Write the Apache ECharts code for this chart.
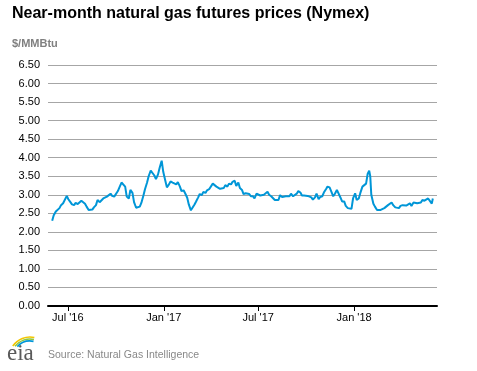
<!DOCTYPE html>
<html>
<head>
<meta charset="utf-8">
<script src="https://cdn.jsdelivr.net/npm/echarts@6/dist/echarts.min.js"></script>
<style>
html,body{margin:0;padding:0;background:#fff;}
#c{width:477px;height:371px;}
</style>
</head>
<body>
<div id="c"></div>
<script>
var dates = [
'2016-06-01','2016-06-04','2016-06-08','2016-06-11','2016-06-15','2016-06-18','2016-06-22','2016-06-25','2016-06-29','2016-07-02',
'2016-07-06','2016-07-09','2016-07-13','2016-07-16','2016-07-20','2016-07-23','2016-07-27','2016-07-30','2016-08-03','2016-08-06',
'2016-08-10','2016-08-13','2016-08-17','2016-08-20','2016-08-24','2016-08-27','2016-08-31','2016-09-03','2016-09-07','2016-09-10',
'2016-09-14','2016-09-17','2016-09-21','2016-09-24','2016-09-28','2016-10-01','2016-10-05','2016-10-08','2016-10-12','2016-10-15',
'2016-10-19','2016-10-22','2016-10-26','2016-10-29','2016-11-02','2016-11-05','2016-11-09','2016-11-12','2016-11-16','2016-11-19',
'2016-11-23','2016-11-26','2016-11-30','2016-12-03','2016-12-07','2016-12-10','2016-12-14','2016-12-17','2016-12-21','2016-12-24',
'2016-12-28','2016-12-31','2017-01-04','2017-01-07','2017-01-11','2017-01-14','2017-01-18','2017-01-21','2017-01-25','2017-01-28',
'2017-02-01','2017-02-04','2017-02-08','2017-02-11','2017-02-15','2017-02-18','2017-02-22','2017-02-25','2017-03-01','2017-03-04',
'2017-03-08','2017-03-11','2017-03-15','2017-03-18','2017-03-22','2017-03-25','2017-03-29','2017-04-01','2017-04-05','2017-04-08',
'2017-04-12','2017-04-15','2017-04-19','2017-04-22','2017-04-26','2017-04-29','2017-05-03','2017-05-06','2017-05-10','2017-05-13',
'2017-05-17','2017-05-20','2017-05-24','2017-05-27','2017-05-31','2017-06-03','2017-06-07','2017-06-10','2017-06-14','2017-06-17',
'2017-06-21','2017-06-24','2017-06-28','2017-07-01','2017-07-05','2017-07-08','2017-07-12','2017-07-15','2017-07-19','2017-07-22',
'2017-07-26','2017-07-29','2017-08-02','2017-08-05','2017-08-09','2017-08-12','2017-08-16','2017-08-19','2017-08-23','2017-08-26',
'2017-08-30','2017-09-02','2017-09-06','2017-09-09','2017-09-13','2017-09-16','2017-09-20','2017-09-23','2017-09-27','2017-09-30',
'2017-10-04','2017-10-07','2017-10-11','2017-10-14','2017-10-18','2017-10-21','2017-10-25','2017-10-28','2017-11-01','2017-11-04',
'2017-11-08','2017-11-11','2017-11-15','2017-11-18','2017-11-22','2017-11-25','2017-11-29','2017-12-02','2017-12-06','2017-12-09',
'2017-12-13','2017-12-16','2017-12-20','2017-12-23','2017-12-27','2017-12-30','2018-01-03','2018-01-06','2018-01-10','2018-01-13',
'2018-01-17','2018-01-20','2018-01-24','2018-01-27','2018-01-30','2018-02-01','2018-02-03','2018-02-07','2018-02-10','2018-02-14',
'2018-02-17','2018-02-21','2018-02-24','2018-02-28','2018-03-03','2018-03-07','2018-03-10','2018-03-14','2018-03-17','2018-03-21',
'2018-03-24','2018-03-28','2018-03-31','2018-04-04','2018-04-07','2018-04-11','2018-04-14','2018-04-18','2018-04-21','2018-04-25',
'2018-04-28','2018-05-02','2018-05-05','2018-05-09','2018-05-12','2018-05-16','2018-05-19','2018-05-23','2018-05-26','2018-05-30',
'2018-06-01'];
var prices = [
2.30,2.45,2.55,2.60,2.64,2.72,2.77,2.80,2.97,2.88,
2.80,2.74,2.72,2.78,2.75,2.70,2.84,2.86,2.76,2.68,
2.59,2.62,2.60,2.66,2.72,2.86,2.80,2.83,2.90,2.92,
2.95,2.98,3.03,2.97,2.95,2.96,3.10,3.20,3.33,3.35,
3.22,2.95,2.90,3.13,3.05,2.80,2.65,2.64,2.68,2.78,
2.98,3.15,3.33,3.50,3.65,3.70,3.52,3.42,3.55,3.72,
3.92,3.62,3.38,3.20,3.28,3.36,3.33,3.36,3.28,3.34,
3.22,3.10,3.12,3.04,2.92,2.74,2.58,2.63,2.74,2.82,
2.93,3.02,2.99,3.08,3.05,3.12,3.15,3.20,3.30,3.28,
3.22,3.24,3.16,3.13,3.18,3.26,3.22,3.30,3.28,3.35,
3.38,3.24,3.33,3.18,3.13,3.02,3.04,2.99,3.02,2.96,
2.96,2.90,3.03,3.08,2.98,2.95,3.00,3.04,3.08,3.00,
2.96,2.95,2.86,2.82,2.86,2.99,2.94,2.90,2.96,2.97,
2.96,3.03,2.96,2.99,3.03,3.10,3.06,2.98,2.98,3.01,
2.97,2.94,2.93,2.87,2.93,3.03,2.88,2.94,2.96,3.06,
3.15,3.22,3.20,3.10,2.96,3.02,3.13,3.12,2.92,2.82,
2.82,2.70,2.64,2.66,2.62,2.90,3.04,2.86,2.90,3.05,
3.22,3.18,3.30,3.56,3.65,3.50,3.00,2.76,2.68,2.59,
2.57,2.59,2.61,2.64,2.67,2.72,2.76,2.79,2.72,2.66,
2.61,2.64,2.70,2.72,2.69,2.71,2.73,2.77,2.70,2.79,
2.81,2.77,2.80,2.79,2.86,2.84,2.87,2.90,2.95,2.76,
2.90];
var tickDates = ['2016-07-01','2017-01-01','2017-07-01','2018-01-01'];
var tickLabels = ["Jul '16","Jan '17","Jul '17","Jan '18"];
var axisStart = '2016-05-24';
var axisEnd = '2018-06-09';
var yMin = 0, yMax = 6.5, yStep = 0.5;

function ts(s){var p=s.split('-');return Date.UTC(+p[0],+p[1]-1,+p[2]);}
var tickTs = tickDates.map(ts);
var seriesData = dates.map(function(d,i){return [ts(d), prices[i]];});

var chart = echarts.init(document.getElementById('c'), null, {renderer:'canvas'});
var font = 'Arial, "Liberation Sans", sans-serif';
chart.setOption({
  animation:false,
  grid:{left:48,right:40,top:65,bottom:65,containLabel:false},
  xAxis:{
    type:'value', min:ts(axisStart), max:ts(axisEnd),
    axisLine:{show:true,lineStyle:{color:'#000',width:2}},
    axisTick:{show:true,length:5,lineStyle:{color:'#000',width:1},customValues:tickTs},
    axisLabel:{customValues:tickTs,color:'#000',fontSize:11,fontFamily:font,margin:6,
      formatter:function(v){var i=tickTs.indexOf(v);return i>=0?tickLabels[i]:'';}},
    splitLine:{show:false}
  },
  yAxis:{
    type:'value', min:yMin, max:yMax, interval:yStep,
    axisLine:{show:false}, axisTick:{show:false},
    axisLabel:{color:'#000',fontSize:11,fontFamily:font,margin:8,formatter:function(v){return v.toFixed(2);}},
    splitLine:{show:true,lineStyle:{color:'#a6a6a6',width:1}}
  },
  series:[{
    type:'line', data:seriesData, showSymbol:false, symbol:'none',
    lineStyle:{color:'#0096d7',width:2}, z:3
  }],
  graphic:[
    {type:'text',left:12,top:6,style:{text:'Near-month natural gas futures prices (Nymex)',font:'bold 16px '+font,fill:'#000'}},
    {type:'text',left:12,top:38,style:{text:'$/MMBtu',font:'bold 11px '+font,fill:'#808080'}},
    {type:'text',left:48,top:350,style:{text:'Source: Natural Gas Intelligence',font:'10.5px '+font,fill:'#888'}},
    {type:'text',left:7,top:342,style:{text:'eia',font:'23px "Liberation Serif", "DejaVu Serif", serif',fill:'#5a5a5a'}},
    {type:'arc',shape:{cx:30,cy:358,r:21,startAngle:215*Math.PI/180,endAngle:282*Math.PI/180},style:{stroke:'#f2c500',fill:null,lineWidth:1.6}},
    {type:'arc',shape:{cx:30,cy:358,r:19,startAngle:218*Math.PI/180,endAngle:282*Math.PI/180},style:{stroke:'#8cc63f',fill:null,lineWidth:1.6}},
    {type:'arc',shape:{cx:30,cy:358,r:17,startAngle:222*Math.PI/180,endAngle:282*Math.PI/180},style:{stroke:'#0096d7',fill:null,lineWidth:1.6}}
  ]
});
</script>
</body>
</html>
